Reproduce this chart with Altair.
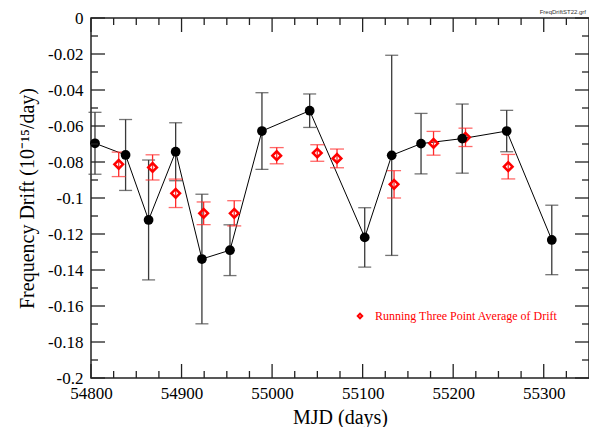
import altair as alt
import pandas as pd

# Black series: MJD, frequency drift, error
bx = [54804.4, 54838.2, 54863.6, 54893.5, 54922.5, 54953.5, 54988.8, 55041.5,
      55102.3, 55132.1, 55164.5, 55210.0, 55259.1, 55308.9]
by = [-0.0696, -0.0761, -0.1122, -0.0743, -0.1339, -0.1290, -0.0628, -0.0515,
      -0.1219, -0.0763, -0.0698, -0.0670, -0.0628, -0.1233]
berr = [0.0172, 0.0197, 0.0333, 0.0161, 0.0360, 0.0141, 0.0213, 0.0093,
        0.0165, 0.0556, 0.0168, 0.0192, 0.0115, 0.0193]

# Red series: running three point average
rx = [54830.6, 54868.0, 54893.5, 54924.4, 54958.2, 55005.1, 55049.9, 55071.7,
      55134.7, 55178.3, 55213.6, 55260.8]
ry = [-0.0813, -0.0830, -0.0974, -0.1085, -0.1085, -0.0765, -0.0750, -0.0780,
      -0.0924, -0.0696, -0.0663, -0.0826]
rerr = [0.0068, 0.0070, 0.0079, 0.0063, 0.0070, 0.0045, 0.0046, 0.0052,
        0.0076, 0.0066, 0.0051, 0.0068]

# Tick positions
x_major = [54800, 54900, 55000, 55100, 55200, 55300]
x_minor = [54825, 54850, 54875, 54925, 54950, 54975, 55025, 55050, 55075,
           55125, 55150, 55175, 55225, 55250, 55275, 55325]
y_major = [0, -0.02, -0.04, -0.06, -0.08, -0.1, -0.12, -0.14, -0.16, -0.18, -0.2]
y_minor = [-0.01, -0.03, -0.05, -0.07, -0.09, -0.11, -0.13, -0.15, -0.17, -0.19]

W, H = 498, 360
SERIF = "Liberation Serif"

black = pd.DataFrame({"x": bx, "y": by, "e": berr})
black["lo"] = black["y"] - black["e"]
black["hi"] = black["y"] + black["e"]
red = pd.DataFrame({"x": rx, "y": ry, "e": rerr})
red["lo"] = red["y"] - red["e"]
red["hi"] = red["y"] + red["e"]

xs = alt.Scale(domain=[54800, 55350], nice=False, zero=False)
ys = alt.Scale(domain=[-0.2, 0], nice=False, zero=False)

x_axis = alt.Axis(values=x_major, format="d", ticks=False, domain=False,
                  grid=False, labelFont=SERIF, labelFontSize=17, labelFlush=False,
                  labelColor="black", labelPadding=7,
                  titleFont=SERIF, titleFontSize=20, titleFontWeight="normal",
                  titleColor="black", titleY=45, titleBaseline="alphabetic")
y_axis = alt.Axis(values=y_major, labelExpr="'' + datum.value", ticks=False,
                  domain=False, grid=False, labelFont=SERIF, labelFontSize=17,
                  labelFlush=False, labelColor="black", labelPadding=8,
                  titleFont=SERIF, titleFontSize=20, titleFontWeight="normal",
                  titleColor="black", titleX=-58, titleBaseline="alphabetic")
XT = "MJD (days)"
YT = "Frequency Drift (10⁻¹⁵/day)"


def X(f):
    return alt.X(f, type="quantitative", scale=xs, axis=x_axis, title=XT)


def Y(f):
    return alt.Y(f, type="quantitative", scale=ys, axis=y_axis, title=YT)


line = alt.Chart(black).mark_line(color="black", strokeWidth=1).encode(
    x=X("x"), y=Y("y"))

ec = "#3a3a3a"
b_rule = alt.Chart(black).mark_rule(color=ec, strokeWidth=1.3).encode(
    x=X("x"), y=Y("lo"), y2="hi")
b_cap_lo = alt.Chart(black).mark_tick(color=ec, orient="horizontal",
                                      size=13, thickness=1.3).encode(x=X("x"), y=Y("lo"))
b_cap_hi = alt.Chart(black).mark_tick(color=ec, orient="horizontal",
                                      size=13, thickness=1.3).encode(x=X("x"), y=Y("hi"))

rc = "#ff2a2a"
r_rule = alt.Chart(red).mark_rule(color=rc, strokeWidth=1.3).encode(
    x=X("x"), y=Y("lo"), y2="hi")
r_cap_lo = alt.Chart(red).mark_tick(color=rc, orient="horizontal",
                                    size=14, thickness=1.3).encode(x=X("x"), y=Y("lo"))
r_cap_hi = alt.Chart(red).mark_tick(color=rc, orient="horizontal",
                                    size=14, thickness=1.3).encode(x=X("x"), y=Y("hi"))
r_pts = alt.Chart(red).mark_point(shape="diamond", filled=False, color="#ff0000",
                                  strokeWidth=2.5, size=75, opacity=1).encode(
    x=X("x"), y=Y("y"))

b_pts = alt.Chart(black).mark_circle(color="black", size=95, opacity=1).encode(
    x=X("x"), y=Y("y"))

# inward ticks
ymaj = pd.DataFrame({"v": y_major})
ymin = pd.DataFrame({"v": y_minor})
xmaj = pd.DataFrame({"v": x_major})
xmin = pd.DataFrame({"v": x_minor})
tc = "#222222"
ticks = [
    alt.Chart(ymaj).mark_rule(color=tc, strokeWidth=1.3).encode(y=Y("v"), x=alt.value(0), x2=alt.value(14)),
    alt.Chart(ymaj).mark_rule(color=tc, strokeWidth=1.3).encode(y=Y("v"), x=alt.value(W - 14), x2=alt.value(W)),
    alt.Chart(ymin).mark_rule(color=tc, strokeWidth=1.3).encode(y=Y("v"), x=alt.value(0), x2=alt.value(7)),
    alt.Chart(ymin).mark_rule(color=tc, strokeWidth=1.3).encode(y=Y("v"), x=alt.value(W - 7), x2=alt.value(W)),
    alt.Chart(xmaj).mark_rule(color=tc, strokeWidth=1.3).encode(x=X("v"), y=alt.value(H - 14), y2=alt.value(H)),
    alt.Chart(xmaj).mark_rule(color=tc, strokeWidth=1.3).encode(x=X("v"), y=alt.value(0), y2=alt.value(14)),
    alt.Chart(xmin).mark_rule(color=tc, strokeWidth=1.3).encode(x=X("v"), y=alt.value(H - 7), y2=alt.value(H)),
    alt.Chart(xmin).mark_rule(color=tc, strokeWidth=1.3).encode(x=X("v"), y=alt.value(0), y2=alt.value(7)),
]

leg = pd.DataFrame({"label": ["Running Three Point Average of Drift"]})
leg_pt = alt.Chart(leg).mark_point(shape="diamond", filled=False, color="#ff0000",
                                   strokeWidth=2, size=20, opacity=1).encode(
    x=alt.value(269), y=alt.value(298))
leg_txt = alt.Chart(leg).mark_text(align="left", baseline="middle", font=SERIF,
                                   fontSize=12, color="#ff0000").encode(
    x=alt.value(284), y=alt.value(298), text="label:N")

fname = pd.DataFrame({"label": ["FreqDriftST22.grf"]})
fname_txt = alt.Chart(fname).mark_text(align="right", baseline="middle",
                                       font="Liberation Sans", fontSize=6,
                                       color="#333333").encode(
    x=alt.value(W - 3), y=alt.value(-6), text="label:N")

chart = alt.layer(
    line, b_rule, b_cap_lo, b_cap_hi, r_rule, r_cap_lo, r_cap_hi, r_pts, b_pts,
    *ticks, leg_pt, leg_txt, fname_txt
).properties(
    width=W, height=H,
    padding={"left": 83, "top": 10, "right": 0, "bottom": 50},
    autosize=alt.AutoSizeParams(type="none"),
    background="white",
).configure(
    font=SERIF,
).configure_view(
    stroke="#222222", strokeWidth=1.5
).configure_axis(
    labelFont=SERIF, titleFont=SERIF
)

chart.save("out.html", embed_options={"renderer": "svg", "actions": False})
